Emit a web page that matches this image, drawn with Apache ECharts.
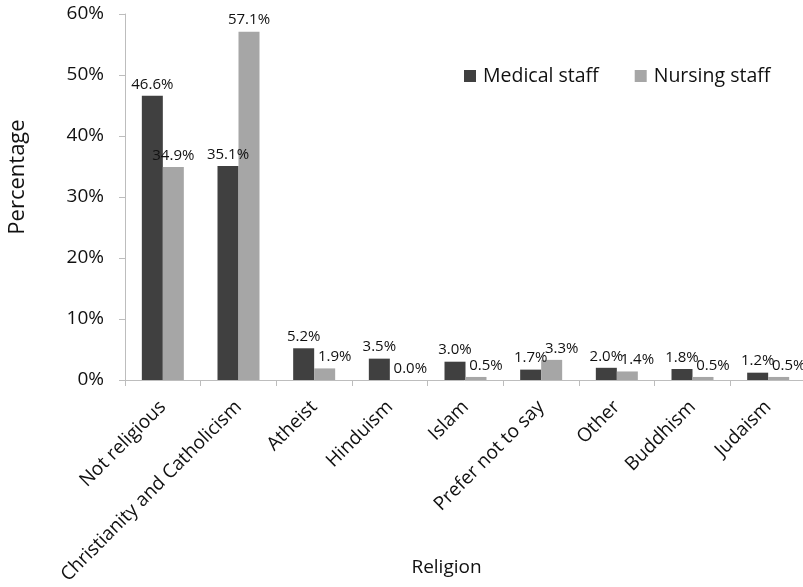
<!DOCTYPE html>
<html>
<head>
<meta charset="utf-8">
<script src="https://cdn.jsdelivr.net/npm/echarts@6/dist/echarts.min.js"></script>
<style>
  html, body { margin: 0; padding: 0; background: #fff; }
  #chart { width: 803px; height: 587px; }
</style>
</head>
<body>
<div id="chart"></div>
<script>
// Religion of respondents, share by staff group (%)
const categories = ['Not religious', 'Christianity and Catholicism', 'Atheist', 'Hinduism', 'Islam', 'Prefer not to say', 'Other', 'Buddhism', 'Judaism'];
const medicalStaff = [46.6, 35.1, 5.2, 3.5, 3.0, 1.7, 2.0, 1.8, 1.2];
const nursingStaff = [34.9, 57.1, 1.9, 0.0, 0.5, 3.3, 1.4, 0.5, 0.5];
const yTicks = [0, 10, 20, 30, 40, 50, 60];

const FONT = 'Open Sans';
const chart = echarts.init(document.getElementById('chart'), null, { renderer: 'canvas' });

const labelStyle = {
  show: true,
  position: 'top',
  distance: 4,
  fontFamily: FONT,
  fontSize: 15,
  color: '#111',
  formatter: p => p.value.toFixed(1) + '%'
};

// small nursing labels sit slightly to the right of their bars
const nursingData = nursingStaff.map(v => ({
  value: v,
  label: { offset: v < 10 ? [10, 0] : [0, 0] }
}));

chart.setOption({
  animation: false,
  textStyle: { fontFamily: FONT },
  grid: { left: 125, right: -3, top: 14, bottom: 207, containLabel: false, outerBoundsMode: 'none' },
  legend: {
    top: 61,
    left: 459,
    itemWidth: 12,
    itemHeight: 12,
    itemGap: 36,
    icon: 'rect',
    textStyle: { fontFamily: FONT, fontSize: 19.5, color: '#111', padding: [0, 0, 0, 2] },
    data: ['Medical staff', 'Nursing staff']
  },
  xAxis: {
    type: 'category',
    data: categories,
    name: 'Religion',
    nameLocation: 'middle',
    nameGap: 178,
    nameMoveOverlap: false,
    nameTextStyle: { fontFamily: FONT, fontSize: 19, color: '#111', padding: [0, 38, 0, 0] },
    axisLine: { lineStyle: { color: '#bdbdbd', width: 1 } },
    axisTick: { show: true, alignWithLabel: false, length: 6, lineStyle: { color: '#bdbdbd' } },
    axisLabel: {
      rotate: 45,
      interval: 0,
      margin: 24,
      fontFamily: FONT,
      fontSize: 19,
      color: '#111'
    }
  },
  yAxis: {
    type: 'value',
    min: yTicks[0],
    max: yTicks[yTicks.length - 1],
    interval: 10,
    name: 'Percentage',
    nameLocation: 'middle',
    nameGap: 96,
    nameRotate: 90,
    nameTextStyle: { fontFamily: FONT, fontSize: 22, color: '#111', padding: [0, 0, 0, 40] },
    axisLine: { show: true, lineStyle: { color: '#bdbdbd', width: 1 } },
    axisTick: { show: true, length: 6, lineStyle: { color: '#bdbdbd' } },
    splitLine: { show: false },
    axisLabel: {
      margin: 21,
      fontFamily: FONT,
      fontSize: 19,
      color: '#111',
      formatter: v => v + '%'
    }
  },
  series: [
    {
      name: 'Medical staff',
      type: 'bar',
      data: medicalStaff,
      barWidth: 21,
      barGap: '0%',
      itemStyle: { color: '#404040' },
      label: labelStyle
    },
    {
      name: 'Nursing staff',
      type: 'bar',
      data: nursingData,
      barWidth: 21,
      barGap: '0%',
      itemStyle: { color: '#a6a6a6' },
      label: labelStyle
    }
  ]
});
</script>
</body>
</html>
